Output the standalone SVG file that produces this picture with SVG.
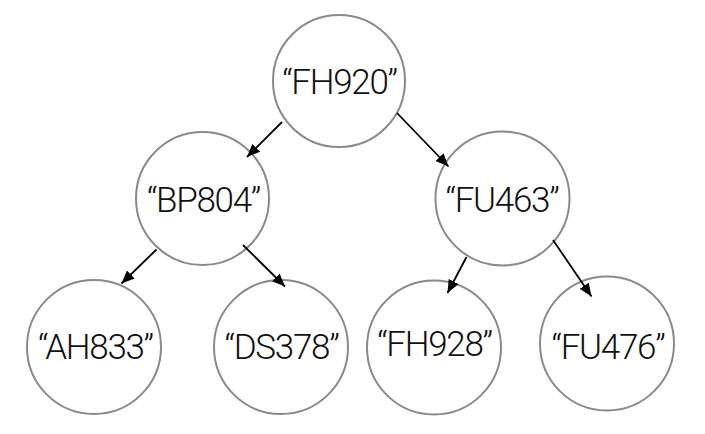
<svg xmlns="http://www.w3.org/2000/svg" width="705" height="434" viewBox="0 0 705 434">
<defs>
<style>
.node circle{fill:#fff;stroke:#8a8a8c;stroke-width:2}
.node text{font-family:Roboto,"Liberation Sans",sans-serif;font-weight:300;font-size:35px;letter-spacing:-1.3px;fill:#111;text-anchor:middle}
.edges line{stroke:#000;stroke-width:1.8}
</style>
<marker id="ah" markerUnits="userSpaceOnUse" markerWidth="14" markerHeight="12" refX="13" refY="5.5" orient="auto" viewBox="0 0 14 12">
<path d="M0,0 L13,5.5 L0,11 z" fill="#000"/>
</marker>
</defs>
<rect width="705" height="434" fill="#fff"/>
<g id="n-FH920" class="node"><circle cx="339" cy="81" r="66"/><text x="339.5" y="94">“FH920”</text></g>
<g id="n-BP804" class="node"><circle cx="202.5" cy="198.5" r="66.5"/><text x="203.5" y="211.5">“BP804”</text></g>
<g id="n-FU463" class="node"><circle cx="502.5" cy="198.5" r="67"/><text x="502" y="211.5">“FU463”</text></g>
<g id="n-AH833" class="node"><circle cx="94" cy="347" r="67"/><text x="95.5" y="359">“AH833”</text></g>
<g id="n-DS378" class="node"><circle cx="281" cy="347" r="67"/><text x="281.5" y="359">“DS378”</text></g>
<g id="n-FH928" class="node"><circle cx="434" cy="347.5" r="67"/><text x="434.5" y="356">“FH928”</text></g>
<g id="n-FU476" class="node"><circle cx="607" cy="343.5" r="67"/><text x="608" y="359">“FU476”</text></g>
<g id="edges" class="edges">
<line x1="282" y1="122" x2="247" y2="157" marker-end="url(#ah)"/>
<line x1="397" y1="113" x2="448.5" y2="166.5" marker-end="url(#ah)"/>
<line x1="156.5" y1="249.5" x2="121.5" y2="283.5" marker-end="url(#ah)"/>
<line x1="243" y1="245" x2="285" y2="286.5" marker-end="url(#ah)"/>
<line x1="466.5" y1="257" x2="447.5" y2="293" marker-end="url(#ah)"/>
<line x1="553" y1="240" x2="591.5" y2="296.5" marker-end="url(#ah)"/>
</g>
</svg>
